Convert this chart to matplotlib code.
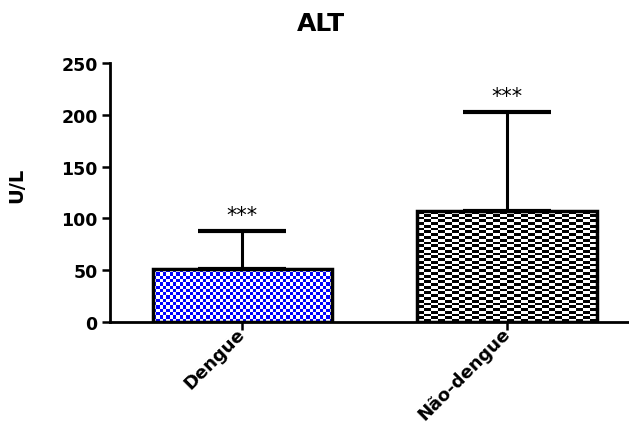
import matplotlib
matplotlib.use("Agg")
import matplotlib.pyplot as plt
import numpy as np

plt.rcParams['font.family'] = ['DejaVu Sans']

# Dados: ALT (U/L), média e desvio superior
grupos = ['Dengue', 'Não-dengue']
medias = [51, 107]
desvios = [37, 96]
significancia = ['***', '***']
cores = [('#0000ff', 'white'), ('black', 'white')]
# tamanho das células do xadrez (pixels: largura, altura)
celulas = [(3.3, 3.3), (7.0, 2.8)]

fig = plt.figure(figsize=(6.29, 4.27), dpi=100)
ax = fig.add_axes([0.1749, 0.2436, 0.8235, 0.6066])

x = np.arange(len(grupos))
barras = ax.bar(x, medias, width=0.677, color='none', edgecolor='black',
                linewidth=2.5, zorder=3)
ax.set_xlim(-0.50, 1.457)
ax.set_ylim(0, 250)


def xadrez(ax, barra, c1, c2, cel):
    """Preenche a barra com padrão quadriculado recortado no retângulo."""
    fig.canvas.draw()
    bb = barra.get_window_extent()
    nx = max(1, int(round(bb.width / cel[0])))
    ny = max(1, int(round(bb.height / cel[1])))
    ii, jj = np.indices((ny, nx))
    padrao = (ii + jj) % 2
    cmap = matplotlib.colors.ListedColormap([c1, c2])
    x0 = barra.get_x()
    w = barra.get_width()
    h = barra.get_height()
    im = ax.imshow(padrao, cmap=cmap, extent=(x0, x0 + w, 0, h),
                   aspect='auto', interpolation='nearest', zorder=2)
    im.set_clip_path(barra)


for barra, (c1, c2), cel in zip(barras, cores, celulas):
    xadrez(ax, barra, c1, c2, cel)
ax.set_xlim(-0.50, 1.457)
ax.set_ylim(0, 250)

# barras de erro só para cima
ax.errorbar(x, medias, yerr=[np.zeros(len(desvios)), desvios], fmt='none',
            ecolor='black', elinewidth=2.2, capsize=32, capthick=3, zorder=4)

for xi, m, d, s in zip(x, medias, desvios, significancia):
    ax.text(xi, m + d + 9.5, s, ha='center', va='baseline', fontsize=15)

ax.spines['top'].set_visible(False)
ax.spines['right'].set_visible(False)
ax.spines['left'].set_linewidth(2)
ax.spines['bottom'].set_linewidth(2)
ax.tick_params(axis='y', direction='out', length=6, width=1.8, pad=3,
               labelsize=12.5)
ax.tick_params(axis='x', direction='out', length=6, width=1.8, pad=0,
               labelsize=13)
ax.set_yticks([0, 50, 100, 150, 200, 250])
ax.set_xticks(x)
ax.set_xticklabels(grupos, rotation=45, ha='right', va='center',
                   rotation_mode='anchor', fontweight='bold')
for lbl in ax.get_yticklabels():
    lbl.set_fontweight('bold')

ax.set_ylabel('U/L', fontsize=14, fontweight='bold')
ax.yaxis.set_label_coords(-0.162, 0.533)
fig.text(0.51, 0.944, 'ALT', ha='center', va='center', fontsize=18,
         fontweight='bold')

fig.savefig('out.png', dpi=100)
